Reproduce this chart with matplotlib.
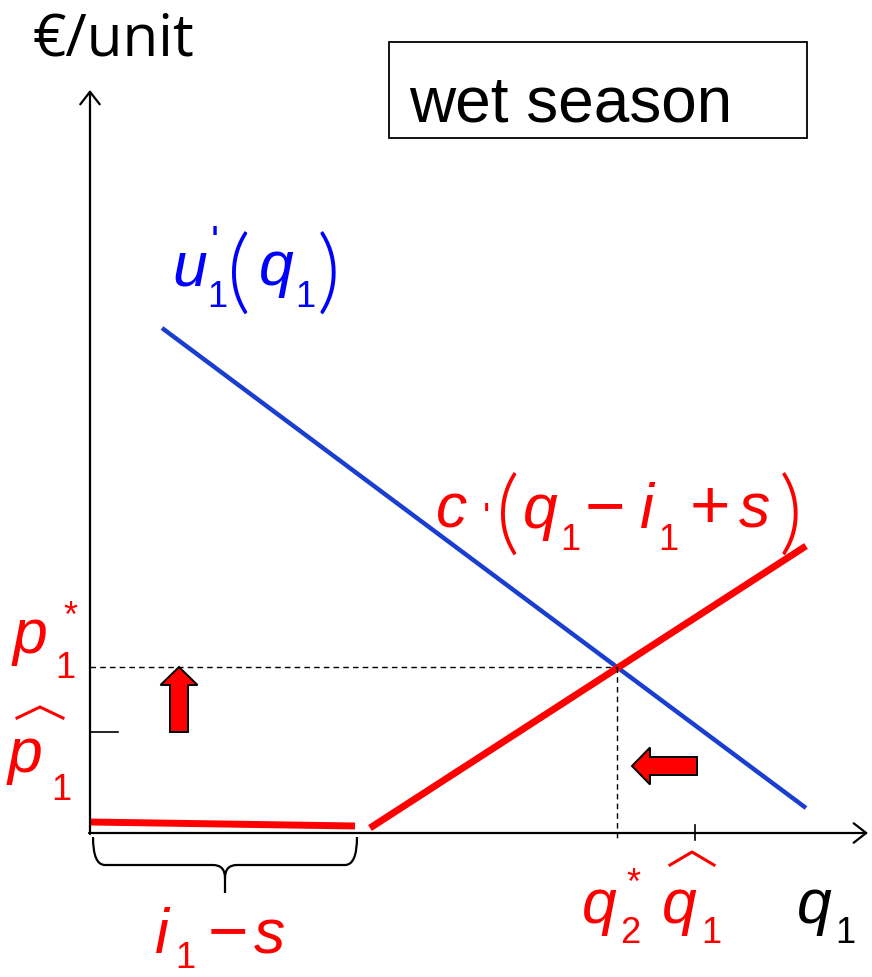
import matplotlib
matplotlib.use("Agg")
import matplotlib.pyplot as plt
from matplotlib.path import Path
from matplotlib.patches import PathPatch, Rectangle

# curve data (units: horizontal q, vertical euro/unit, origin at axes corner)
q_u = [72, 716]
u_vals = [505, 25]
q_c_flat = [0, 265]
c_flat = [11, 7]
q_c = [280, 716]
c_vals = [5, 287]
q_star, p_star = 527, 166
q_hat, p_hat = 605, 101
i1_minus_s = 265

plt.rcParams['font.family'] = 'Liberation Sans'

RED = '#ff0000'
BLUE = '#1a3fd0'
TXT_BLUE = '#0000ff'

fig = plt.figure(figsize=(8.72, 9.77), dpi=100)
ax = fig.add_axes([0, 0, 1, 1])
ax.set_xlim(-90, 782)
ax.set_ylim(-144, 833)
ax.axis('off')


def px(x, y):
    # picture position -> data position
    return x - 90, 833 - y


def piece(s, x, y, size, color, style='italic', ha='left', **kw):
    X, Y = px(x, y)
    ax.text(X, Y, s, fontsize=size, color=color, fontstyle=style,
            va='baseline', ha=ha, **kw)


def paren(s, x, y, color):
    piece(s, x, y, 66, color, style='normal', family='Lato', fontweight=320)


def hat(x0, x1, ytop, ybot, color):
    xs = [x0, (x0 + x1) / 2, x1]
    ys = [ybot, ytop, ybot]
    X, Y = zip(*[px(a, b) for a, b in zip(xs, ys)])
    ax.plot(X, Y, color=color, lw=2.2, solid_joinstyle='round')


# axes with open arrowheads
arr = dict(arrowstyle='->,head_length=0.9,head_width=0.7', lw=1.6, color='black',
           shrinkA=0, shrinkB=0)
ax.annotate('', xy=(0, 743), xytext=(0, -1), arrowprops=arr)
ax.annotate('', xy=(778, 0), xytext=(-1, 0), arrowprops=arr)

# curves
ax.plot(q_u, u_vals, color=BLUE, lw=3.2, solid_capstyle='butt')
ax.plot(q_c_flat, c_flat, color=RED, lw=5.0, solid_capstyle='butt')
ax.plot(q_c, c_vals, color=RED, lw=5.0, solid_capstyle='butt')

# equilibrium guides
ax.plot([0, q_star], [p_star, p_star], color='black', lw=1.0, ls=(0, (4, 3)))
ax.plot([q_star, q_star], [p_star, -5], color='black', lw=1.0, ls=(0, (4, 3)))

# ticks for hats
ax.plot([0, 28], [p_hat, p_hat], color='black', lw=1.2)
ax.plot([q_hat, q_hat], [-7, 8], color='black', lw=1.2)

# block arrows
ax.arrow(89, p_hat, 0, p_star - p_hat, width=18, head_width=37, head_length=18,
         length_includes_head=True, fc=RED, ec='black', lw=1.4)
ax.arrow(q_hat + 2, 67, q_star + 15 - q_hat - 2, 0, width=18, head_width=37,
         head_length=18, length_includes_head=True, fc=RED, ec='black', lw=1.4)

# brace under i1 - s
x0, x1 = 3, i1_minus_s + 2
xm = (x0 + x1) / 2
verts = [(x0, -4), (x0, -32), (x0 + 12, -32), (xm - 12, -32), (xm, -32), (xm, -45),
         (xm, -60), (xm, -45), (xm, -32), (xm + 12, -32), (x1 - 12, -32), (x1, -32), (x1, -4)]
codes = [Path.MOVETO, Path.CURVE3, Path.CURVE3, Path.LINETO, Path.CURVE3, Path.CURVE3,
         Path.LINETO, Path.MOVETO, Path.CURVE3, Path.CURVE3, Path.LINETO, Path.CURVE3, Path.CURVE3]
ax.add_patch(PathPatch(Path(verts, codes), fc='none', ec='black', lw=1.6))

# title box
ax.add_patch(Rectangle((299, 695), 418, 96, fc='white', ec='black', lw=1.3))
piece('wet season', 409, 122, 46, 'black', style='normal')
piece('€/unit', 33, 55, 42, 'black', style='normal', family='Open Sans')

MAIN, SUB, PRIME = 45, 26, 30

# u'_1(q_1)
piece('u', 172, 285, MAIN, TXT_BLUE)
piece("'", 211, 255, PRIME, TXT_BLUE, style='normal')
piece('1', 207, 307, SUB, TXT_BLUE, style='normal')
paren('(', 227, 303, TXT_BLUE)
piece('q', 259, 285, MAIN, TXT_BLUE)
piece('1', 295, 307, SUB, TXT_BLUE, style='normal')
paren(')', 317, 303, TXT_BLUE)

# c'(q_1 - i_1 + s)
piece('c', 436, 528, MAIN, RED)
piece("'", 483, 530, 27, RED, style='normal')
paren('(', 496, 544, RED)
piece('q', 523, 528, MAIN, RED)
piece('1', 560, 550, SUB, RED, style='normal')
piece('\u2212', 605, 528, 50, RED, style='normal', ha='center')
piece('i', 640, 528, MAIN, RED)
piece('1', 658, 550, SUB, RED, style='normal')
piece('+', 710, 528, 50, RED, style='normal', ha='center')
piece('s', 739, 528, MAIN, RED)
paren(')', 779, 544, RED)

# p*_1 and p-hat_1
piece('p', 13, 653, MAIN, RED)
piece('*', 63, 627, SUB, RED, style='normal')
piece('1', 55, 678, SUB, RED, style='normal')
hat(17, 63, 707, 718, RED)
piece('p', 8, 772, MAIN, RED)
piece('1', 51, 800, SUB, RED, style='normal')

# q*_2, q-hat_1, q_1
piece('q', 582, 923, MAIN, RED)
piece('*', 626, 894, SUB, RED, style='normal')
piece('2', 620, 943, SUB, RED, style='normal')
hat(670, 714, 852, 865, RED)
piece('q', 662, 923, MAIN, RED)
piece('1', 701, 943, SUB, RED, style='normal')
piece('q', 797, 923, MAIN, 'black')
piece('1', 835, 943, SUB, 'black', style='normal')

# i_1 - s
piece('i', 155, 953, MAIN, RED)
piece('1', 175, 968, SUB, RED, style='normal')
piece('\u2212', 228, 953, 50, RED, style='normal', ha='center')
piece('s', 254, 953, MAIN, RED)

fig.savefig('out.png', dpi=100)
